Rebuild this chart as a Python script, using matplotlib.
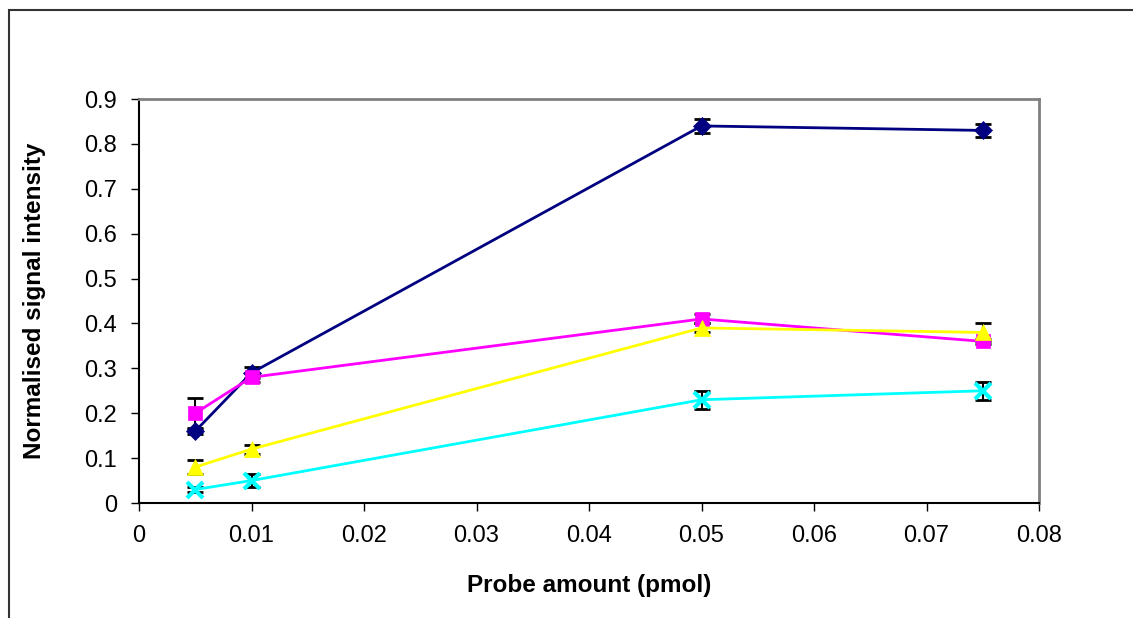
import numpy as np
import matplotlib.pyplot as plt
from matplotlib.patches import Rectangle

plt.rcParams['font.family'] = ['Liberation Sans', 'DejaVu Sans']

# data
x = [0.005, 0.01, 0.05, 0.075]

navy_y = [0.16, 0.29, 0.84, 0.83]
navy_err = [0.007, 0.012, 0.015, 0.015]

magenta_y = [0.20, 0.28, 0.41, 0.36]
magenta_err = [0.035, 0.01, 0.01, 0.005]

yellow_y = [0.08, 0.12, 0.39, 0.38]
yellow_err = [0.015, 0.01, 0.01, 0.02]

cyan_y = [0.03, 0.05, 0.23, 0.25]
cyan_err = [0.005, 0.015, 0.02, 0.02]

xticks = [0, 0.01, 0.02, 0.03, 0.04, 0.05, 0.06, 0.07, 0.08]
yticks = [0, 0.1, 0.2, 0.3, 0.4, 0.5, 0.6, 0.7, 0.8, 0.9]

fig = plt.figure(figsize=(11.33, 6.18), dpi=100)
ax = fig.add_axes([139/1133, 115/618, 900/1133, 404/618])

# outer chart frame (cut off at right and bottom)
fig.patches.append(Rectangle((9/1133, -0.1), 1.2, (608/618) + 0.1,
                             transform=fig.transFigure, fill=False,
                             edgecolor='#333333', linewidth=1.5))

series = [
    (navy_y, navy_err, '#000080', 'D', 9),
    (magenta_y, magenta_err, '#ff00ff', 's', 10),
    (yellow_y, yellow_err, '#ffff00', '^', 11),
    (cyan_y, cyan_err, '#00ffff', 'x', 11),
]

for yv, ev, col, mk, ms in series:
    ax.errorbar(x, yv, yerr=ev, fmt='none', ecolor='black', elinewidth=1.5,
                capsize=6, capthick=2, zorder=2)
    ax.plot(x, yv, color=col, linewidth=2, marker=mk, markersize=ms,
            markeredgewidth=3 if mk == 'x' else 0.5, markeredgecolor=col,
            markerfacecolor=col, zorder=3)

ax.set_xlim(0, 0.08)
ax.set_ylim(0, 0.9)
ax.set_xticks(xticks)
ax.set_xticklabels(['0', '0.01', '0.02', '0.03', '0.04', '0.05', '0.06', '0.07', '0.08'])
ax.set_yticks(yticks)
ax.set_yticklabels(['0', '0.1', '0.2', '0.3', '0.4', '0.5', '0.6', '0.7', '0.8', '0.9'])
ax.tick_params(direction='out', length=6, width=1, labelsize=17, pad=10)

ax.spines['top'].set_color('#808080')
ax.spines['right'].set_color('#808080')
ax.spines['top'].set_linewidth(2)
ax.spines['right'].set_linewidth(2)
ax.spines['left'].set_linewidth(1.5)
ax.spines['bottom'].set_linewidth(1.5)

ax.set_xlabel('Probe amount (pmol)', fontsize=17.5, fontweight='bold', labelpad=19)
ax.set_ylabel('Normalised signal intensity', fontsize=17.5, fontweight='bold', labelpad=27)

fig.savefig('out.png', dpi=100)
